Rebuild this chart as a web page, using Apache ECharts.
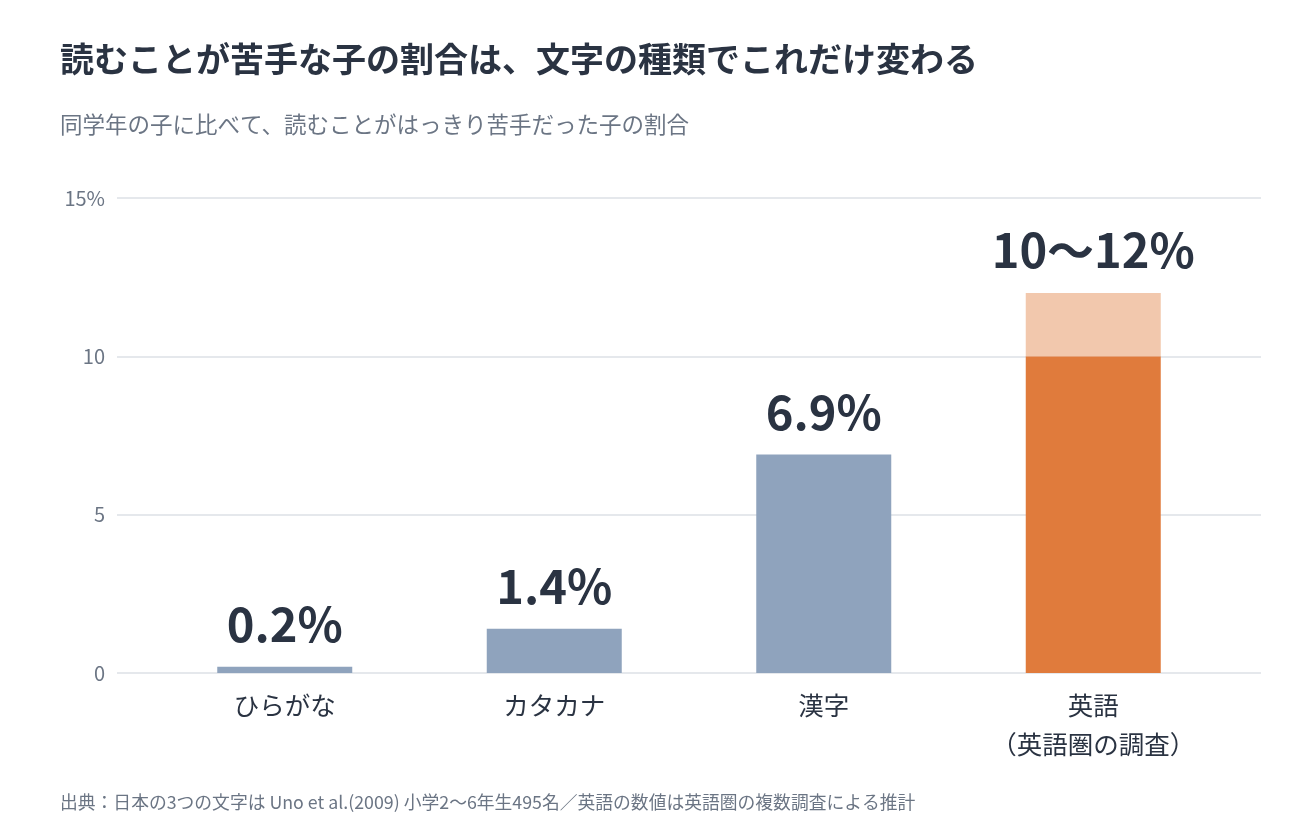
<!DOCTYPE html>
<html>
<head>
<meta charset="utf-8">
<script src="https://cdn.jsdelivr.net/npm/echarts@6/dist/echarts.min.js"></script>
<style>
  html, body { margin: 0; padding: 0; background: #fff; }
  #chart { width: 1300px; height: 832px; }
</style>
</head>
<body>
<div id="chart"></div>
<script>
const categories = ["ひらがな", "カタカナ", "漢字", "英語\n（英語圏の調査）"];
const baseValues = [0.2, 1.4, 6.9, 10];
const rangeValues = [null, null, null, 2];
const labelTexts = ["0.2%", "1.4%", "6.9%", "10〜12%"];
const yTicks = [0, 5, 10, 15];

const FONT = "'Noto Sans CJK JP', 'Noto Sans', sans-serif";
const DARK = "#2a3342";
const GRAY = "#6b7584";
const SLATE = "#8fa3bd";
const ORANGE = "#e07b3c";
const LIGHT = "#f2c8ad";

const chart = echarts.init(document.getElementById("chart"));

// 英語だけオレンジ
const baseColors = categories.map((c, i) => (i === 3 ? ORANGE : SLATE));

chart.setOption({
  animation: false,
  textStyle: { fontFamily: FONT },
  title: [
    {
      text: "読むことが苦手な子の割合は、文字の種類でこれだけ変わる",
      left: 55,
      top: 37,
      textStyle: { fontSize: 34, fontWeight: "bold", color: DARK, fontFamily: FONT },
    },
    {
      text: "同学年の子に比べて、読むことがはっきり苦手だった子の割合",
      left: 55,
      top: 108,
      textStyle: { fontSize: 22.5, fontWeight: "normal", color: GRAY, fontFamily: FONT },
    },
    {
      text: "出典：日本の3つの文字は Uno et al.(2009) 小学2〜6年生495名／英語の数値は英語圏の複数調査による推計",
      left: 55,
      top: 788,
      textStyle: { fontSize: 17.8, fontWeight: "normal", color: GRAY, fontFamily: FONT },
    },
  ],
  grid: [
    // 目盛と罫線用
    { left: 117, right: 39, top: 198, bottom: 159 },
    // 棒用
    { left: 150, right: 72, top: 198, bottom: 159 },
  ],
  xAxis: [
    { gridIndex: 0, type: "value", show: false, min: 0, max: 1 },
    {
      gridIndex: 1,
      type: "category",
      data: categories,
      axisLine: { show: false },
      axisTick: { show: false },
      axisLabel: {
        color: DARK,
        fontSize: 25.5,
        lineHeight: 39,
        margin: 13,
        fontFamily: FONT,
      },
    },
  ],
  yAxis: [
    {
      gridIndex: 0,
      type: "value",
      min: 0,
      max: 15,
      interval: 5,
      axisLine: { show: false },
      axisTick: { show: false },
      splitLine: { lineStyle: { color: "#e5e8ec", width: 2 } },
      axisLabel: {
        color: GRAY,
        fontSize: 20,
        margin: 12,
        fontFamily: FONT,
        formatter: (v) => (v === yTicks[yTicks.length - 1] ? v + "%" : String(v)),
      },
    },
    {
      gridIndex: 1,
      type: "value",
      min: 0,
      max: 15,
      interval: 5,
      show: false,
      splitLine: { show: false },
    },
  ],
  series: [
    {
      type: "bar",
      xAxisIndex: 1,
      yAxisIndex: 1,
      stack: "total",
      barWidth: 135,
      data: baseValues.map((v, i) => ({
        value: v,
        itemStyle: { color: baseColors[i] },
        label: { show: rangeValues[i] == null },
      })),
      label: {
        show: true,
        position: "top",
        distance: 19,
        fontSize: 47,
        fontWeight: "bold",
        color: DARK,
        fontFamily: FONT,
        formatter: (p) => labelTexts[p.dataIndex],
      },
    },
    {
      type: "bar",
      xAxisIndex: 1,
      yAxisIndex: 1,
      stack: "total",
      barWidth: 135,
      itemStyle: { color: LIGHT },
      data: rangeValues,
      label: {
        show: true,
        position: "top",
        distance: 19,
        fontSize: 47,
        fontWeight: "bold",
        color: DARK,
        fontFamily: FONT,
        formatter: (p) => labelTexts[p.dataIndex],
      },
    },
  ],
});
window.addEventListener("resize", () => chart.resize());
</script>
</body>
</html>
